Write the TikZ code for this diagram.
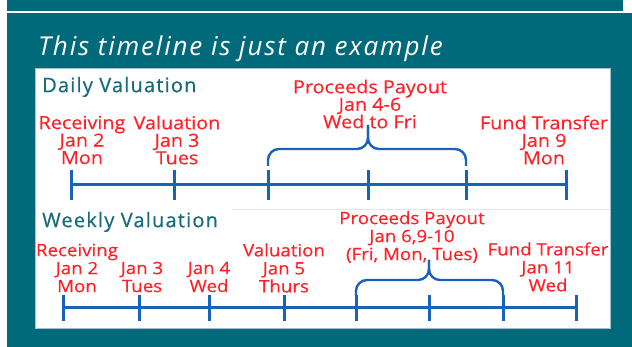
\documentclass[tikz,border=0pt]{standalone}
\usepackage{fontspec}
\setmainfont{Open Sans}
\newfontfamily\lblfont[FakeStretch=1.1,FakeBold=0.4]{Open Sans}
\newfontfamily\hdrfont[LetterSpace=6,FakeBold=0.5]{Open Sans}
\newfontfamily\ttlfont[LetterSpace=7]{Open Sans}
\usepackage{xcolor}
\usepackage{tikz}

\definecolor{bgteal}{RGB}{0,105,122}
\definecolor{hdteal}{RGB}{22,108,122}
\definecolor{lnblue}{RGB}{24,98,188}
\definecolor{lblred}{RGB}{255,32,40}
\definecolor{edgegray}{RGB}{160,195,205}

\begin{document}
\begin{tikzpicture}[x=1pt,y=-1pt,
  lbl/.style={text=lblred,align=center,inner sep=0pt,font=\lblfont\fontsize{18}{17.5}\selectfont},
  lblw/.style={lbl,font=\lblfont\fontsize{17}{18}\selectfont},
  hdr/.style={text=hdteal,anchor=west,inner sep=0pt,font=\hdrfont\fontsize{20}{22}\selectfont},
  tl/.style={lnblue,line width=3pt},
  brace/.style={lnblue,line width=2.4pt,rounded corners=11pt}]
  \useasboundingbox (0,0) rectangle (632,347);
  % frame
  \fill[white] (0,0) rectangle (632,347);
  \fill[bgteal] (7,0) rectangle (623,11);
  \fill[bgteal] (7,13) rectangle (632,347);
  \filldraw[fill=white,draw=edgegray,line width=0.8pt] (35,68) rectangle (610,328);
  \draw[black!10,line width=0.8pt] (232,209) -- (610,209);
  \node[anchor=base west,inner sep=0pt,text=white,font=\ttlfont\itshape\fontsize{26}{28}\selectfont] (title) at (38,56) {This timeline is just an example};

  % daily
  \node[hdr] (dhead) at (42,87) {Daily Valuation};
  \foreach \x [count=\i] in {71,174,268,368,466,566}
    \coordinate (d\i) at (\x,185);
  \draw[tl] (d1) -- (d6);
  \foreach \i in {1,...,6}
    \draw[tl] ([yshift=15pt]d\i) -- ([yshift=-15pt]d\i);
  \coordinate (dmid) at (368,149);
  \coordinate (dtip) at (368,125);
  \draw[brace] ([yshift=19pt]d3) |- (dmid) -- (dtip);
  \draw[brace] ([yshift=19pt]d5) |- (dmid) -- (dtip);
  \node[lbl] (drcv) at (82,140) {Receiving\\Jan 2\\Mon};
  \node[lbl] (dval) at (177,140) {Valuation\\Jan 3\\Tues};
  \node[lbl] (dpay) at (370,104) {Proceeds Payout\\Jan 4-6\\Wed to Fri};
  \node[lbl] (dfund) at (544,140) {Fund Transfer\\Jan 9\\Mon};

  % weekly
  \node[hdr] (whead) at (42,222) {Weekly Valuation};
  \foreach \x [count=\i] in {63,139,209,284,356,429,503,576}
    \coordinate (w\i) at (\x,308);
  \draw[tl] (w1) -- (w8);
  \foreach \i in {1,...,8}
    \draw[tl] ([yshift=13pt]w\i) -- ([yshift=-13pt]w\i);
  \coordinate (wmid) at (429,280);
  \coordinate (wtip) at (429,260);
  \draw[brace] ([yshift=13pt]w5) |- (wmid) -- (wtip);
  \draw[brace] ([yshift=13pt]w7) |- (wmid) -- (wtip);
  \node[lblw] (wrcv) at (77,268) {Receiving\\Jan 2\\Mon};
  \node[lblw] (wtue) at (142,277) {Jan 3\\Tues};
  \node[lblw] (wwed) at (209,277) {Jan 4\\Wed};
  \node[lblw] (wval) at (284,268) {Valuation\\Jan 5\\Thurs};
  \node[lblw] (wpay) at (412,237) {Proceeds Payout\\Jan 6,9-10\\(Fri, Mon, Tues)};
  \node[lblw] (wfund) at (548,267) {Fund Transfer\\Jan 11\\Wed};
\end{tikzpicture}
\end{document}
